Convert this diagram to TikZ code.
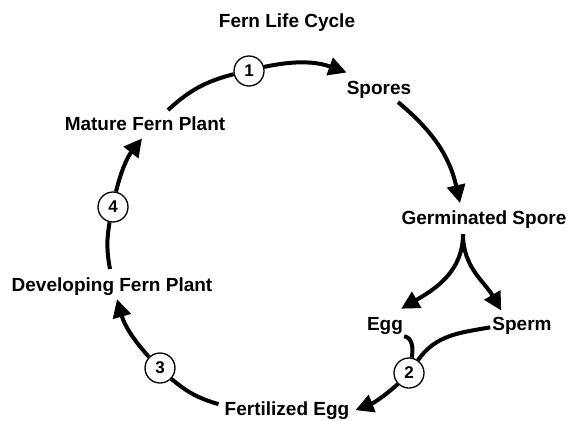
\documentclass[tikz,border=0pt]{standalone}
\usepackage{fontspec}
\setmainfont{Liberation Sans}
\usetikzlibrary{arrows.meta}
\tikzset{cycpath/.style={draw=black,line width=4pt},cycarrow/.style={cycpath,-{Triangle[length=18pt,width=18pt]}},stagetext/.style={font=\bfseries\fontsize{19}{22}\selectfont,anchor=base,inner sep=2pt},stepcircle/.style={circle,draw=black,line width=1.3pt,fill=white,minimum size=30pt,inner sep=0pt,font=\bfseries\fontsize{17}{20}\selectfont}}
\begin{document}
\begin{tikzpicture}[x=1pt,y=-1pt]
\useasboundingbox (0,0) rectangle (567,420);
% stage labels
\node[stagetext] (title) at (287,28) {Fern Life Cycle};
\node[stagetext] (spores) at (379,94) {Spores};
\node[stagetext] (germ) at (484,224) {Germinated Spore};
\node[stagetext] (egg) at (385,330) {Egg};
\node[stagetext] (sperm) at (522,330) {Sperm};
\node[stagetext] (fert) at (287,415) {Fertilized Egg};
\node[stagetext] (devel) at (112,291) {Developing Fern Plant};
\node[stagetext] (mature) at (145,130) {Mature Fern Plant};
% numbered steps
\node[stepcircle] (c1) at (249,71) {1};\node[stepcircle] (c2) at (409,373) {2};\node[stepcircle] (c3) at (160,368) {3};\node[stepcircle] (c4) at (113,207) {4};
% cycle
\draw[cycpath] ([xshift=23pt,yshift=4pt]mature.north) to[bend left=14] (c1);
\draw[cycarrow] (c1) to[bend left=16] ([shift={(2pt,6pt)}]spores.north west);
\draw[cycarrow] ([xshift=19pt,yshift=-2pt]spores.south) to[bend left=19] ([xshift=-24pt,yshift=5pt]germ.north);
\coordinate (fork) at ([xshift=-21pt,yshift=-4pt]germ.south);
\draw[cycarrow] (fork) to[out=-90,in=30] ([shift={(-4pt,6pt)}]egg.north east);
\draw[cycarrow] (fork) to[out=-90,in=120] ([shift={(11pt,4pt)}]sperm.north west);
\draw[cycpath] ([xshift=-1pt]egg.south east) to[out=-10,in=80] (c2);
\draw[cycpath] ([yshift=-2pt]sperm.west) to[out=190,in=55] (c2);
\draw[cycarrow] (c2) to[bend left=10] ([xshift=4pt]fert.east);
\draw[cycpath] ([shift={(-4pt,6pt)}]fert.west) to[bend left=12] (c3);
\draw[cycarrow] (c3) to[bend left=13] ([xshift=5pt,yshift=-2pt]devel.south);
\draw[cycpath] ([xshift=-2pt,yshift=6pt]devel.north) to[bend left=10] (c4);
\draw[cycarrow] (c4) to[bend left=12] ([xshift=-3pt,yshift=-6pt]mature.south);
\end{tikzpicture}
\end{document}
